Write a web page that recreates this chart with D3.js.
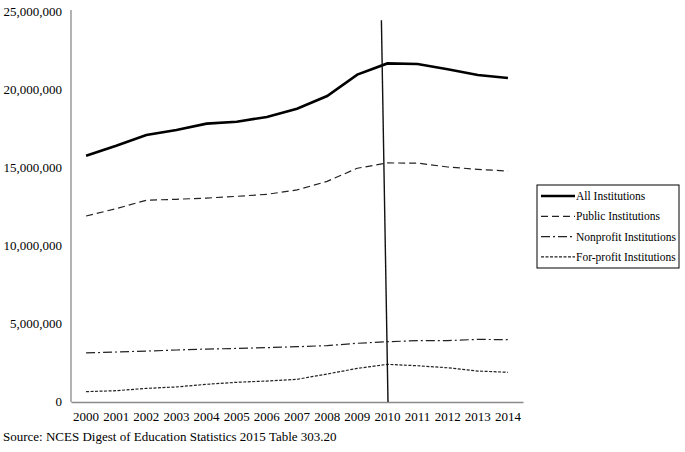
<!DOCTYPE html>
<html>
<head>
<meta charset="utf-8">
<script src="https://cdn.jsdelivr.net/npm/d3@7"></script>
<style>
    body { margin: 0; background: #fff; }
    svg { display: block; font-family: "Liberation Serif", "Times New Roman", serif; }
</style>
</head>
<body>
<div id="chart"></div>
<script>
"use strict";

const years = ["2000", "2001", "2002", "2003", "2004", "2005", "2006", "2007",
    "2008", "2009", "2010", "2011", "2012", "2013", "2014"];

const allInstitutions = [15720000, 16360000, 17050000, 17370000, 17780000, 17900000,
    18210000, 18740000, 19550000, 20920000, 21640000, 21600000, 21260000, 20900000, 20710000];
const publicInstitutions = [11860000, 12330000, 12870000, 12930000, 13010000, 13120000,
    13250000, 13530000, 14080000, 14920000, 15260000, 15250000, 15000000, 14850000, 14740000];
const nonprofitInstitutions = [3080000, 3140000, 3200000, 3270000, 3330000, 3370000,
    3420000, 3480000, 3550000, 3700000, 3800000, 3870000, 3870000, 3950000, 3930000];
const forprofitInstitutions = [600000, 660000, 810000, 900000, 1070000, 1200000,
    1280000, 1390000, 1730000, 2090000, 2350000, 2260000, 2130000, 1920000, 1840000];

const yTicks = [0, 5000000, 10000000, 15000000, 20000000, 25000000];
const markerYear = "2010";
const sourceNote = "Source: NCES  Digest of Education Statistics 2015 Table 303.20";

const WIDTH = 685;
const HEIGHT = 452;
const PLOT = { left: 71, right: 523, top: 11, bottom: 401 };

const seriesList = [
    { name: "All Institutions", values: allInstitutions, width: 2.6, dash: null, color: "#000" },
    { name: "Public Institutions", values: publicInstitutions, width: 1.2, dash: "7,4", color: "#222" },
    { name: "Nonprofit Institutions", values: nonprofitInstitutions, width: 1.2, dash: "9,3,2,3", color: "#222" },
    { name: "For-profit Institutions", values: forprofitInstitutions, width: 1.2, dash: "3,1.5", color: "#222" }
];

const svg = d3.select("#chart")
    .append("svg")
    .attr("width", WIDTH)
    .attr("height", HEIGHT);

const x = d3.scaleBand()
    .domain(years)
    .range([PLOT.left, PLOT.right]);

const y = d3.scaleLinear()
    .domain([0, 25000000])
    .range([PLOT.bottom, PLOT.top]);

const center = year => x(year) + x.bandwidth() / 2;

// Y axis: gray line, no ticks
const yAxis = svg.append("g")
    .attr("transform", `translate(${PLOT.left},0)`)
    .call(d3.axisLeft(y).tickValues(yTicks).tickSize(0).tickPadding(9)
        .tickFormat(d3.format(",")));
yAxis.select(".domain").attr("stroke", "#8a8a8a").attr("stroke-width", 1.3)
    .attr("d", `M0,${PLOT.top - 1}V${PLOT.bottom + 1}`);
yAxis.selectAll("text")
    .attr("font-size", 13)
    .attr("font-family", "Liberation Serif")
    .attr("fill", "#000");

// X axis
const xAxis = svg.append("g")
    .attr("transform", `translate(0,${PLOT.bottom + 1})`)
    .call(d3.axisBottom(x).tickSize(0).tickPadding(10));
xAxis.select(".domain").attr("stroke", "#8a8a8a").attr("stroke-width", 1.3);
xAxis.selectAll("text")
    .attr("font-size", 13)
    .attr("font-family", "Liberation Serif")
    .attr("fill", "#000");

// Series lines
const line = d3.line()
    .x((_, i) => center(years[i]))
    .y(d => y(d));

svg.selectAll(".series")
    .data(seriesList)
    .enter()
    .append("path")
    .classed("series", true)
    .attr("fill", "none")
    .attr("stroke", d => d.color)
    .attr("stroke-width", d => d.width)
    .attr("stroke-dasharray", d => d.dash)
    .attr("d", d => line(d.values));

// Hand-drawn marker at 2010 (slightly tilted, as in the original)
svg.append("line")
    .attr("x1", center(markerYear) - 6)
    .attr("y1", y(24400000))
    .attr("x2", center(markerYear) + 0.6)
    .attr("y2", PLOT.bottom + 1)
    .attr("stroke", "#111")
    .attr("stroke-width", 1.4);

// Legend
const legend = svg.append("g").attr("transform", "translate(537,185)");
legend.append("rect")
    .attr("width", 142)
    .attr("height", 83)
    .attr("fill", "#fff")
    .attr("stroke", "#000")
    .attr("stroke-width", 1);

const rows = legend.selectAll(".legend-row")
    .data(seriesList)
    .enter()
    .append("g")
    .classed("legend-row", true)
    .attr("transform", (_, i) => `translate(0,${11 + i * 20.3})`);

rows.append("line")
    .attr("x1", 4)
    .attr("x2", 38)
    .attr("stroke", d => d.color)
    .attr("stroke-width", d => d.width)
    .attr("stroke-dasharray", d => d.dash);

rows.append("text")
    .attr("x", 39)
    .attr("dy", "0.35em")
    .attr("font-size", 11.5)
    .text(d => d.name);

// Source note
svg.append("text")
    .attr("x", 3)
    .attr("y", 441)
    .attr("font-size", 13)
    .text(sourceNote);
</script>
</body>
</html>
